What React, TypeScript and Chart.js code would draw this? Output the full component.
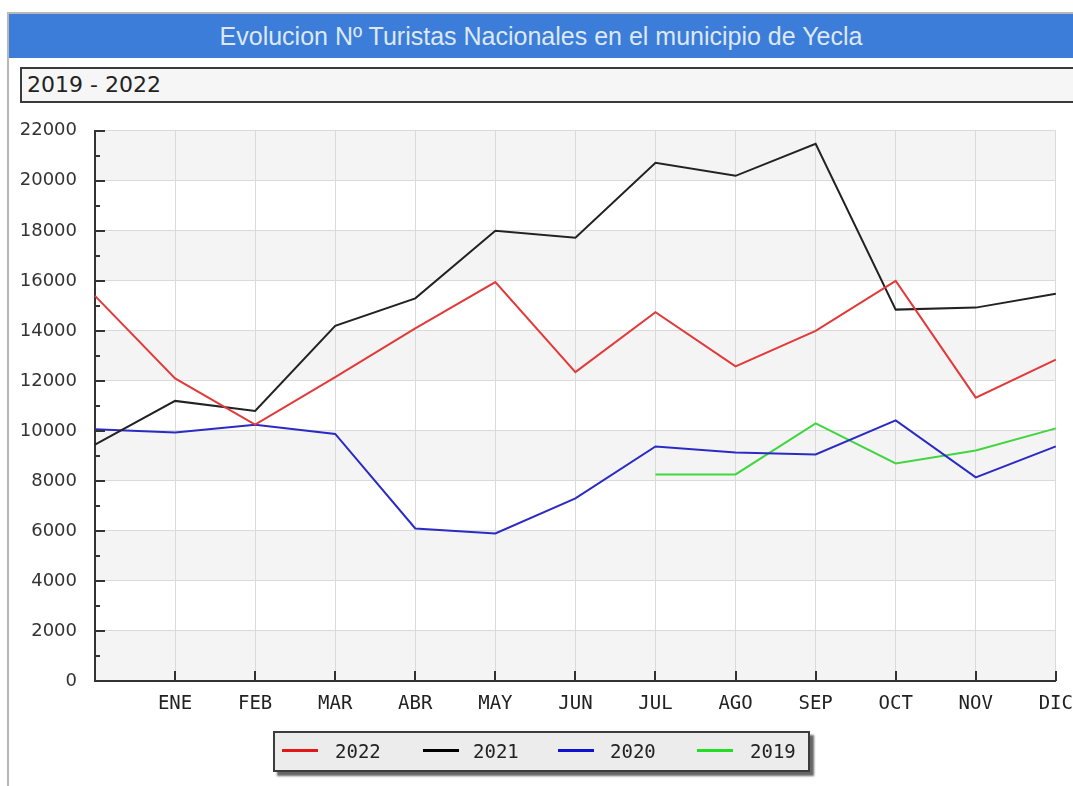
import React, { useEffect, useRef } from "react";
import { Chart, registerables } from "chart.js";

Chart.register(...registerables);

const categories = ["", "ENE", "FEB", "MAR", "ABR", "MAY", "JUN", "JUL", "AGO", "SEP", "OCT", "NOV", "DIC"];
const seriesNames = ["2022", "2021", "2020", "2019"];
const values2022 = [15400, 12100, 10250, 12150, 14100, 15950, 12350, 14750, 12580, 14000, 16000, 11330, 12850];
const values2021 = [9450, 11200, 10800, 14200, 15300, 18000, 17720, 20720, 20200, 21480, 14850, 14930, 15480];
const values2020 = [10070, 9940, 10250, 9880, 6100, 5900, 7300, 9380, 9140, 9060, 10420, 8140, 9380];
const values2019 = [null, null, null, null, null, null, null, 8260, 8260, 10300, 8700, 9220, 10100];
const yTicks = [0, 2000, 4000, 6000, 8000, 10000, 12000, 14000, 16000, 18000, 20000, 22000];

const lineColors = ["#e23a3a", "#222222", "#2b2bc4", "#3fd63f"];
const legendColors = ["#e01818", "#000000", "#1010d0", "#22dd22"];

const bandsPlugin = {
  id: "bands",
  beforeDraw(chart: any) {
    const { ctx, chartArea, scales } = chart;
    const y = scales.y;
    ctx.save();
    for (let i = 0; i < yTicks.length - 1; i++) {
      if (i % 2 === 0) {
        const top = y.getPixelForValue(yTicks[i + 1]);
        const bot = y.getPixelForValue(yTicks[i]);
        ctx.fillStyle = "#f4f4f4";
        ctx.fillRect(chartArea.left, top, chartArea.right - chartArea.left, bot - top);
      }
    }
    ctx.restore();
  },
};

const ticksPlugin = {
  id: "innerTicks",
  afterDraw(chart: any) {
    const { ctx, chartArea, scales } = chart;
    const y = scales.y;
    const x = scales.x;
    ctx.save();
    ctx.strokeStyle = "#333";
    ctx.lineWidth = 2;
    ctx.beginPath();
    for (let v = 0; v <= 22000; v += 1000) {
      const py = Math.round(y.getPixelForValue(v));
      const len = v % 2000 === 0 ? 10 : 5;
      ctx.moveTo(chartArea.left, py);
      ctx.lineTo(chartArea.left + len, py);
    }
    for (let i = 1; i < categories.length; i++) {
      const px = Math.round(x.getPixelForValue(i));
      ctx.moveTo(px, chartArea.bottom);
      ctx.lineTo(px, chartArea.bottom - 10);
    }
    ctx.stroke();
    ctx.restore();
  },
};

function ChartCanvas() {
  const ref = useRef<HTMLCanvasElement | null>(null);
  useEffect(() => {
    if (!ref.current) return;
    const data = [values2022, values2021, values2020, values2019];
    const chart = new Chart(ref.current, {
      type: "line",
      data: {
        labels: categories,
        datasets: data.map((d, i) => ({
          label: seriesNames[i],
          data: d,
          borderColor: lineColors[i],
          backgroundColor: lineColors[i],
          borderWidth: 2,
          pointRadius: 0,
          tension: 0,
          fill: false,
        })),
      },
      options: {
        animation: false,
        responsive: false,
        maintainAspectRatio: false,
        layout: { padding: { top: 12, right: 6, bottom: 0, left: 0 } },
        plugins: { legend: { display: false }, tooltip: { enabled: false }, title: { display: false } },
        scales: {
          x: {
            type: "category",
            offset: false,
            grid: { color: "#dadada", lineWidth: 1, drawTicks: false },
            border: { display: true, color: "#333", width: 2 },
            ticks: {
              autoSkip: false,
              maxRotation: 0,
              padding: 12,
              color: "#222",
              font: { family: "DejaVu Sans Mono", size: 19 },
            },
            afterFit(scale: any) {
              scale.height = 69;
            },
          },
          y: {
            min: 0,
            max: 22000,
            grid: { color: "#dadada", lineWidth: 1, drawTicks: false },
            border: { display: true, color: "#333", width: 2 },
            ticks: {
              stepSize: 2000,
              padding: 18,
              color: "#333",
              font: { family: "DejaVu Sans", size: 18 },
              callback: (v: any) => String(v),
            },
            afterFit(scale: any) {
              scale.width = 87;
            },
          },
        },
      },
      plugins: [bandsPlugin, ticksPlugin],
    } as any);
    return () => chart.destroy();
  }, []);
  return <canvas ref={ref} width={1077} height={648} style={{ position: "absolute", left: 8, top: 102, width: 1077, height: 648 }} />;
}

const legendLineX = [9, 150, 285, 424];
const legendTextX = [62, 200, 337, 477];

export default function App() {
  return (
    <div style={{ position: "absolute", left: 0, top: 0, width: 1073, height: 786, overflow: "hidden", background: "#fff" }}>
      <div style={{ position: "absolute", left: 7, top: 12, width: 1066, height: 2, background: "#b8b8b8" }} />
      <div style={{ position: "absolute", left: 7, top: 12, width: 2, height: 774, background: "#b8b8b8" }} />
      <div
        style={{
          position: "absolute",
          left: 9,
          top: 14,
          width: 1064,
          height: 44,
          background: "#3b7dd8",
          color: "#dde8f6",
          fontFamily: "Liberation Sans",
          fontSize: 25,
          lineHeight: "44px",
          textAlign: "center",
          whiteSpace: "nowrap",
        }}
      >
        Evolucion Nº Turistas Nacionales en el municipio de Yecla
      </div>
      <div
        style={{
          position: "absolute",
          left: 20,
          top: 67,
          width: 1060,
          height: 32,
          border: "2px solid #3a3a3a",
          background: "#f6f6f6",
          color: "#222",
          fontFamily: "DejaVu Sans",
          fontSize: 22,
          lineHeight: "32px",
          paddingLeft: 5,
          boxSizing: "content-box",
          whiteSpace: "nowrap",
        }}
      >
        2019 - 2022
      </div>
      <ChartCanvas />
      <div
        style={{
          position: "absolute",
          left: 273,
          top: 731,
          width: 533,
          height: 37,
          border: "2px solid #3c3c3c",
          background: "#ececec",
          boxShadow: "4px 4px 2px #666",
        }}
      >
        {seriesNames.map((n, i) => (
          <React.Fragment key={n}>
            <div
              style={{
                position: "absolute",
                left: legendLineX[i] - 2,
                top: 16,
                width: 36,
                height: 3,
                background: legendColors[i],
              }}
            />
            <div
              style={{
                position: "absolute",
                left: legendTextX[i] - 2,
                top: 6,
                fontFamily: "DejaVu Sans Mono",
                fontSize: 19,
                lineHeight: "24px",
                color: "#222",
              }}
            >
              {n}
            </div>
          </React.Fragment>
        ))}
      </div>
    </div>
  );
}
